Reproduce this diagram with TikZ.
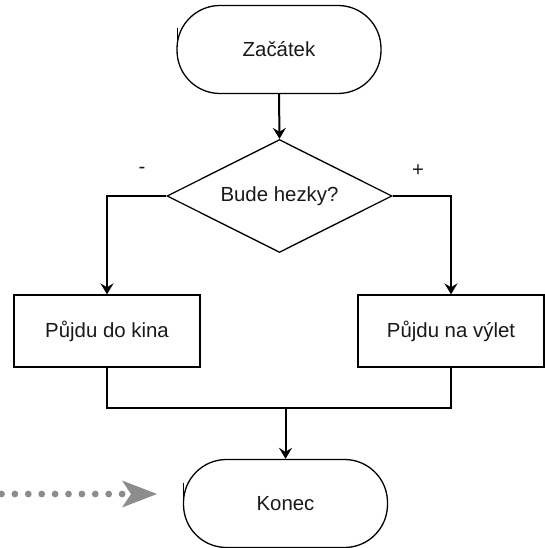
\documentclass[tikz,border=0pt]{standalone}
\usepackage{fontspec}
\setmainfont{Liberation Sans}
\usetikzlibrary{shapes.geometric,arrows.meta}
\definecolor{dotgray}{RGB}{140,140,140}
\begin{document}
\begin{tikzpicture}[x=1pt,y=1pt,
  every node/.style={font=\fontsize{20.4}{24}\selectfont, text=black!90},
  term/.style={draw, line width=1.3pt, rounded corners=43pt, minimum width=204pt, minimum height=88pt, inner sep=0pt},
  decision/.style={draw, diamond, shape aspect=2, line width=1.3pt, minimum width=225pt, minimum height=113pt, inner sep=0pt},
  procbox/.style={draw, rectangle, line width=1.3pt, minimum width=186pt, minimum height=72pt, inner sep=0pt},
  conn/.style={line width=2pt},
  arr/.style={conn, -{Stealth[length=11pt, width=13pt, inset=4pt]}},
  dotarrow/.style={dotgray, line width=6.8pt, line cap=round, dash pattern=on 0pt off 13.4pt,
     -{Stealth[length=35pt, width=27pt, inset=9pt, line width=0pt]}},
  lbl/.style={inner sep=0pt}
]
\useasboundingbox (0,0) rectangle (544,-548);

\node[term] (start) at (279,-49.5) {Začátek};
\node[decision] (dec) at (279.5,-196) {Bude hezky?};
\node[procbox] (left) at (107,-331) {Půjdu do kina};
\node[procbox] (right) at (451,-331) {Půjdu na výlet};
\node[term] (end) at (285.5,-503.5) {Konec};

\node[lbl] (minus) at (142,-170) {-};
\node[lbl] (plus) at (418,-171) {+};

\coordinate (join) at (285.5,-408);

\draw[arr] (start.south) -- (dec.north);
\draw[arr] (dec.west) -| (left.north);
\draw[arr] (dec.east) -| (right.north);
\draw[conn] (left.south) |- (join) -| (right.south);
\draw[arr] (join) -- (end.north);

% small tick artifacts at left of terminals
\draw[line width=1pt] (177,-28) -- (177,-44);
\draw[line width=1pt] (183.5,-483) -- (183.5,-504);

% dotted arrow
\coordinate (ds) at (1.5,-494);
\coordinate (de) at (157,-494);
\draw[dotarrow] (ds) -- (de);
\end{tikzpicture}
\end{document}
